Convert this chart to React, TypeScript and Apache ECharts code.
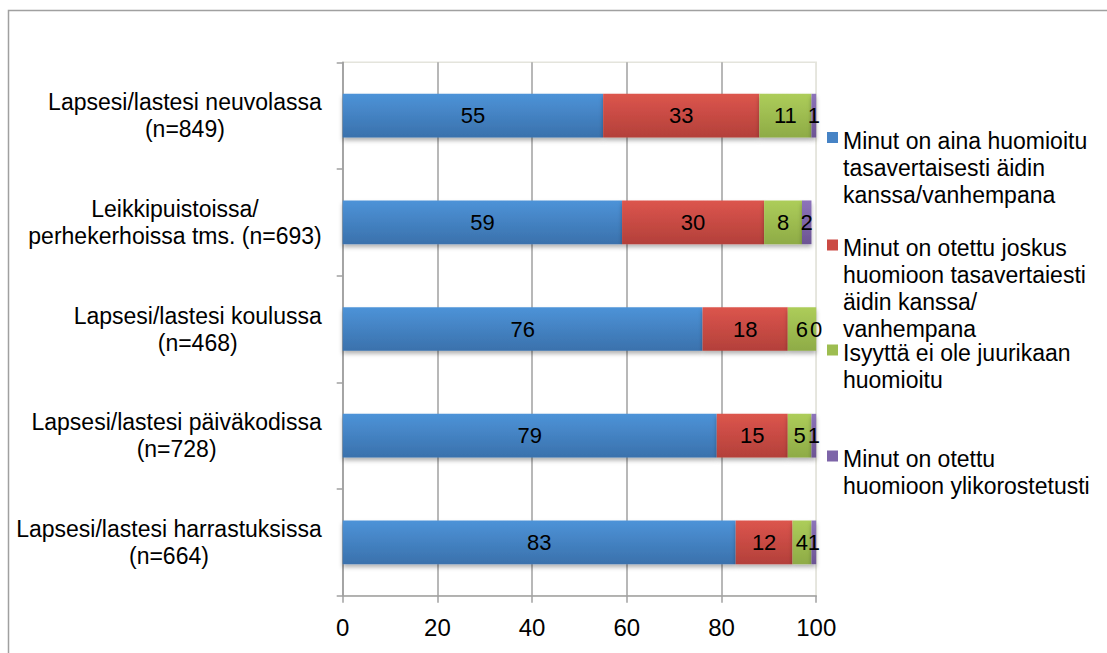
import React, { useEffect, useRef } from "react";
import * as echarts from "echarts";

const categoryLines: string[][] = [
  ["Lapsesi/lastesi neuvolassa", "(n=849)"],
  ["Leikkipuistoissa/", "perhekerhoissa tms. (n=693)"],
  ["Lapsesi/lastesi koulussa", "(n=468)"],
  ["Lapsesi/lastesi päiväkodissa", "(n=728)"],
  ["Lapsesi/lastesi harrastuksissa", "(n=664)"],
];
const categories = categoryLines.map((l) => l.join(" "));

const legendLines: string[][] = [
  ["Minut on aina huomioitu", "tasavertaisesti äidin", "kanssa/vanhempana"],
  ["Minut on otettu joskus", "huomioon tasavertaiesti", "äidin kanssa/", "vanhempana"],
  ["Isyyttä ei ole juurikaan", "huomioitu"],
  ["Minut on otettu", "huomioon ylikorostetusti"],
];
const seriesNames = legendLines.map((l) => l.join(" "));

const alwaysValues = [55, 59, 76, 79, 83];
const sometimesValues = [33, 30, 18, 15, 12];
const neverValues = [11, 8, 6, 5, 4];
const overValues = [1, 2, 0, 1, 1];
const seriesValues = [alwaysValues, sometimesValues, neverValues, overValues];

const xTickLabels = ["0", "20", "40", "60", "80", "100"];

const FONT = "Liberation Sans, Arial, sans-serif";
const gradients: [string, string][] = [
  ["#4d93d8", "#3a71ac"],
  ["#dc554d", "#b3403a"],
  ["#adcd5a", "#8eab46"],
  ["#8d74ba", "#6c5494"],
];
const legendColors = ["#4683c5", "#cb4a44", "#9dbd50", "#7d64a8"];

export default function App() {
  const ref = useRef<HTMLDivElement>(null);
  useEffect(() => {
    document.body.style.margin = "0";
    if (!ref.current) return;
    const chart = echarts.init(ref.current, undefined, { renderer: "svg" });

    const L = 27;
    const iconSize = 11;
    const d = 3;
    const iconTops = [132, 239.5, 344.5, 450.5];
    const legends = legendLines.map((lines, i) => {
      const N = lines.length;
      const H = iconSize + 2 * d + (N - 1) * L;
      const textTopRel = H / 2 - (N * L) / 2;
      const top = iconTops[i] + Math.min(0, textTopRel);
      const iconPath = `path://M0,0h${iconSize}v${iconSize}h-${iconSize}z M0,${H - 0.01}h0.01v0.01h-0.01z`;
      return {
        show: true,
        orient: "vertical",
        left: 827,
        top,
        padding: 0,
        itemWidth: iconSize,
        itemHeight: H,
        itemGap: 0,
        selectedMode: false,
        data: [
          {
            name: seriesNames[i],
            icon: iconPath,
            itemStyle: { color: legendColors[i], shadowBlur: 0, shadowColor: "transparent", shadowOffsetY: 0 },
          },
        ],
        formatter: () => lines.join("\n"),
        textStyle: {
          fontFamily: FONT,
          fontSize: 23,
          lineHeight: L,
          color: "#000",
        },
      };
    });

    const option: any = {
      animation: false,
      backgroundColor: "#fff",
      grid: {
        left: 342.7,
        right: 1107 - 816.2,
        top: 62.3,
        bottom: 653 - 595.7,
        show: true,
        borderColor: "#e4e4dc",
        borderWidth: 1.5,
        outerBoundsMode: "none",
        containLabel: false,
      },
      legend: legends,
      xAxis: {
        type: "value",
        min: 0,
        max: 100,
        interval: 20,
        axisLine: { show: true, lineStyle: { color: "#a0a0a0", width: 1.5 } },
        axisTick: { show: true, length: 7, lineStyle: { color: "#a0a0a0", width: 1.5 } },
        splitLine: {
          show: true,
          lineStyle: {
            color: ["#a0a0a0", "#a0a0a0", "#a0a0a0", "#a0a0a0", "#a0a0a0", "#e4e4dc"],
            width: 1.5,
          },
        },
        axisLabel: {
          margin: 20,
          fontFamily: FONT,
          fontSize: 24,
          color: "#000",
          formatter: (v: number) => xTickLabels[Math.round(v / 20)] ?? String(v),
        },
      },
      yAxis: {
        type: "category",
        inverse: true,
        data: categories,
        axisLine: { show: true, lineStyle: { color: "#a0a0a0", width: 1.5 } },
        axisTick: { show: true, length: 6, lineStyle: { color: "#a0a0a0", width: 1.5 } },
        axisLabel: {
          interval: 0,
          margin: 21,
          formatter: (_v: string, idx: number) =>
            categoryLines[idx].map((s) => `{c|${s}}`).join("\n"),
          rich: {
            c: {
              align: "center",
              fontFamily: FONT,
              fontSize: 23,
              lineHeight: L,
              color: "#000",
            },
          },
        },
      },
      series: seriesValues.map((vals, i) => ({
        name: seriesNames[i],
        type: "bar",
        stack: "total",
        barCategoryGap: "59%",
        data: vals,
        itemStyle: {
          color: new echarts.graphic.LinearGradient(0, 0, 0, 1, [
            { offset: 0, color: gradients[i][0] },
            { offset: 1, color: gradients[i][1] },
          ]),
          shadowColor: "rgba(0,0,0,0.3)",
          shadowBlur: 4,
          shadowOffsetY: 3,
        },
        label: {
          show: true,
          position: "inside",
          fontFamily: FONT,
          fontSize: 22,
          color: "#000",
        },
      })),
      graphic: [
        {
          type: "rect",
          shape: { x: 8.5, y: 10.5, width: 1300, height: 800 },
          style: { fill: "none", stroke: "#a0a0a0", lineWidth: 1.5 },
          silent: true,
          z: -10,
        },
      ],
    };
    chart.setOption(option);
    return () => chart.dispose();
  }, []);
  return (
    <div
      ref={ref}
      style={{ position: "absolute", left: 0, top: 0, width: 1107, height: 653 }}
    />
  );
}
